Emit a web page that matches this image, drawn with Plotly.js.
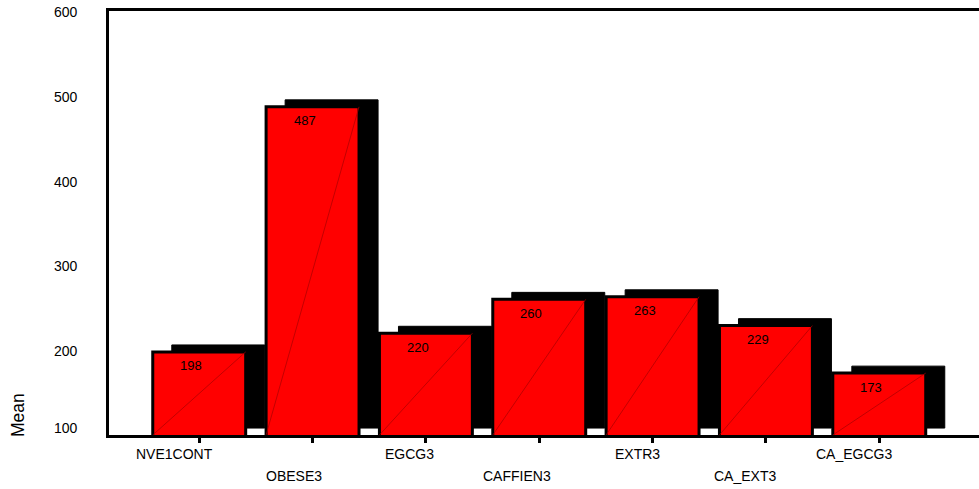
<!DOCTYPE html>
<html>
<head>
<meta charset="utf-8">
<script src="https://cdn.plot.ly/plotly-3.0.1.min.js"></script>
<style>
  html, body { margin: 0; padding: 0; background: #ffffff; }
  #chart { width: 979px; height: 489px; }
</style>
</head>
<body>
<div id="chart"></div>
<script>
// Group names and their mean values
const categories = ['NVE1CONT', 'OBESE3', 'EGCG3', 'CAFFIEN3', 'EXTR3', 'CA_EXT3', 'CA_EGCG3'];
const means = [198, 487, 220, 260, 263, 229, 173];
const yTickValues = [100, 200, 300, 400, 500, 600];
const yTickLabels = ['100', '200', '300', '400', '500', '600'];
const yTitle = 'Mean';

// Drawing constants
const FONT = 'Liberation Sans, Arial, sans-serif';
const Y_MIN = 100, Y_MAX = 600;
const BAR_W = 0.82;          // bar width in category units
const SHADOW_DX = 0.168;     // drop shadow shift to the right (category units)
const SHADOW_DY = 8.2;       // drop shadow shift upward (value units)

const idx = categories.map((_, i) => i);

// Black drop shadow behind each bar
const shadow = {
  type: 'bar',
  x: idx,
  y: means.map(v => v - Y_MIN),
  base: Y_MIN + SHADOW_DY,
  width: BAR_W,
  offset: -BAR_W / 2 + SHADOW_DX,
  marker: { color: '#000000', line: { color: '#000000', width: 1 } },
  hoverinfo: 'skip'
};

// Red bars with heavy outline
const bars = {
  type: 'bar',
  x: idx,
  y: means,
  width: BAR_W,
  marker: { color: '#ff0000', line: { color: '#000000', width: 3 } },
  hoverinfo: 'skip'
};

// Thin seam running corner to corner across each bar face
const seamX = [], seamY = [];
idx.forEach((i, k) => {
  seamX.push(i - BAR_W / 2, i + BAR_W / 2, null);
  seamY.push(Y_MIN, means[k], null);
});
const seams = {
  type: 'scatter', mode: 'lines', x: seamX, y: seamY,
  line: { color: '#a80000', width: 0.7 },
  hoverinfo: 'skip'
};

// Text width helper for the shifted category labels
const cvs = document.createElement('canvas').getContext('2d');
cvs.font = "14px 'Liberation Sans'";
const textW = s => cvs.measureText(s).width;

const annotations = [];

// Category labels, staggered on two rows
categories.forEach((c, i) => {
  annotations.push({
    x: i, xref: 'x', y: 0, yref: 'paper',
    text: c, showarrow: false,
    xanchor: 'center', yanchor: 'middle',
    xshift: -0.33 * textW(c),
    yshift: i % 2 === 0 ? -19 : -41,
    font: { family: FONT, size: 14, color: '#000000' }
  });
});

// Value labels near the top of each bar
means.forEach((v, i) => {
  annotations.push({
    x: i, xref: 'x', y: v, yref: 'y',
    text: String(v), showarrow: false,
    xanchor: 'center', yanchor: 'middle',
    xshift: -8, yshift: -14,
    font: { family: FONT, size: 13, color: '#000000' }
  });
});

// Value axis labels
yTickValues.forEach((t, k) => {
  annotations.push({
    x: 0, xref: 'paper', y: t, yref: 'y',
    text: yTickLabels[k], showarrow: false,
    xanchor: 'right', yanchor: 'middle',
    xshift: -29, yshift: t === Y_MIN ? 7 : -1,
    font: { family: FONT, size: 14, color: '#000000' }
  });
});

// Axis title
annotations.push({
  x: 0, xref: 'paper', y: 0, yref: 'paper',
  text: yTitle, showarrow: false, textangle: -90,
  xanchor: 'center', yanchor: 'middle',
  xshift: -91, yshift: 20,
  font: { family: FONT, size: 17.5, color: '#000000' }
});

const layout = {
  width: 979, height: 489,
  margin: { l: 109, r: 0, t: 11, b: 54, pad: 0 },
  paper_bgcolor: '#ffffff', plot_bgcolor: '#ffffff',
  barmode: 'overlay',
  showlegend: false,
  hovermode: false,
  xaxis: {
    type: 'linear',
    range: [-0.796, 6.88],
    tickvals: idx, showticklabels: false,
    ticks: 'outside', ticklen: 5, tickwidth: 3, tickcolor: '#000000',
    showline: true, linewidth: 3, linecolor: '#000000', mirror: true,
    showgrid: false, zeroline: false, fixedrange: true
  },
  yaxis: {
    range: [Y_MIN, Y_MAX],
    showticklabels: false, ticks: '',
    showline: true, linewidth: 3, linecolor: '#000000', mirror: false,
    showgrid: false, zeroline: false, fixedrange: true
  },
  annotations: annotations
};

Plotly.newPlot('chart', [shadow, bars, seams], layout, { staticPlot: true, displayModeBar: false });
</script>
</body>
</html>
